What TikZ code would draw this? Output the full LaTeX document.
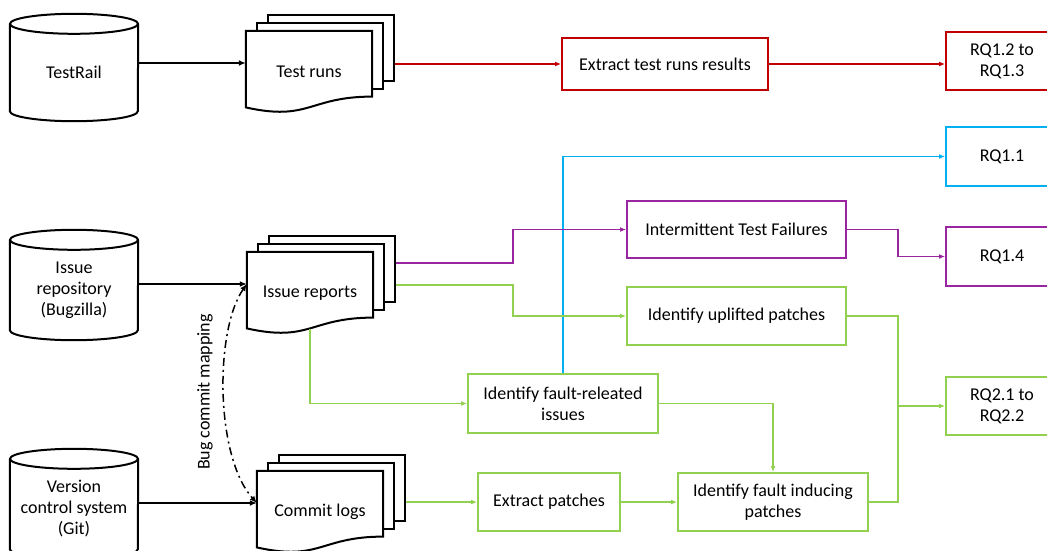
\documentclass[tikz,border=0pt]{standalone}
\usepackage{fontspec}
\setmainfont{Carlito}
\usetikzlibrary{calc,arrows.meta,backgrounds}

\definecolor{runred}{RGB}{192,0,0}
\definecolor{rqblue}{RGB}{0,176,240}
\definecolor{itfpurple}{RGB}{153,38,160}
\definecolor{patchgreen}{RGB}{146,208,80}

\begin{document}
\begin{tikzpicture}[x=1pt,y=-1pt,
	every node/.style={font=\fontsize{18}{21}\selectfont,align=center,inner sep=0pt},
	task/.style={draw=#1,line width=2pt,minimum height=58pt},
	rq/.style={task=#1,minimum width=112pt},
	sheet/.style={minimum width=126pt,minimum height=82pt},
	backsheet/.style={draw,line width=2pt,fill=white,minimum width=126pt,minimum height=66pt,anchor=north west},
	store/.style={minimum width=128pt},
	link/.style={line width=2pt,-{Latex[length=7pt,width=6pt]}},
	flow/.style={line width=1.6pt,-{Latex[length=6pt,width=5pt]}}]
\useasboundingbox (0,0) rectangle (1047,551);

% data sources
\node[store,minimum height=77pt] (testrail) at (74,72.5) {TestRail};
\node[store,minimum height=80pt] (issuerepo) at (74,290) {Issue\\repository\\(Bugzilla)};
\node[store,minimum height=80pt] (vcs) at (74,509) {Version\\control system\\(Git)};

% documents
\node[sheet] (runs) at (309,72) {Test runs};
\node[sheet] (issues) at (310,293) {Issue reports};
\node[sheet] (commits) at (320,512) {Commit logs};

\begin{scope}[on background layer]
\foreach \n in {testrail,issuerepo,vcs}{
	\draw[line width=2pt] ($(\n.north)+(0,-10)$) ellipse [x radius=64pt,y radius=10pt]
		($(\n.north west)+(0,-10)$) -- (\n.south west)
		arc [start angle=180,end angle=360,x radius=64pt,y radius=10pt]
		-- ($(\n.north east)+(0,-10)$);
}
\foreach \n in {runs,issues,commits}{
	\node[backsheet] (\n-c) at ($(\n.north west)+(21,-17)$) {};
	\node[backsheet] (\n-b) at ($(\n.north west)+(10.5,-8.5)$) {};
	\draw[line width=2pt,fill=white] (\n.north west) -- (\n.north east) -- ($(\n.north east)+(0,65.8)$)
		.. controls ($(\n.north east)+(-63,65.8)$) and ($(\n.north east)+(-63,90.8)$) .. ($(\n.north west)+(0,76.6)$) -- cycle;
	\coordinate (\n-in) at ([yshift=9pt]\n.west);
}
\end{scope}

% steps
\node[task=runred,minimum width=206pt,minimum height=52pt] (extractruns) at (665,64) {Extract test runs results};
\node[task=itfpurple,minimum width=219pt,minimum height=57pt] (itf) at (736.5,229.5) {Intermittent Test Failures};
\node[task=patchgreen,minimum width=219pt] (uplift) at (736.5,316) {Identify uplifted patches};
\node[task=patchgreen,minimum width=190pt,minimum height=59pt] (related) at (563,403.5) {Identify fault-releated\\issues};
\node[task=patchgreen,minimum width=142pt] (extract) at (549,502) {Extract patches};
\node[task=patchgreen,minimum width=190pt] (inducing) at (773,502) {Identify fault inducing\\patches};

% research questions
\node[rq=runred] (rq12) at (1002,61) {RQ1.2 to\\RQ1.3};
\node[rq=rqblue,minimum height=59pt] (rq11) at (1002,156.5) {RQ1.1};
\node[rq=itfpurple,minimum height=59pt] (rq14) at (1002,256.5) {RQ1.4};
\node[rq=patchgreen] (rq21) at (1002,406) {RQ2.1 to\\RQ2.2};

% inputs
\draw[link] (runs-in -| testrail.east) -- (runs-in);
\draw[link] (issues-in -| issuerepo.east) -- (issues-in);
\draw[link] (commits-in -| vcs.east) -- (commits-in);
\draw[line width=1.5pt,dash pattern=on 8pt off 4pt on 2pt off 4pt,
	{Latex[length=7pt,width=6pt]}-{Latex[length=7pt,width=6pt]}]
	(issues-in) .. controls +(-32,46) and +(-42,-47) .. (commits-in);
\node[rotate=90] (maplabel) at (205,392) {Bug commit mapping};

% flows
\draw[flow,runred] (runs-c.east |- extractruns.west) -- (extractruns.west);
\draw[flow,runred] (extractruns.east) -- (extractruns.east -| rq12.west);
\draw[flow,rqblue] (related.north) |- (rq11.west);
\draw[flow,itfpurple] ([yshift=6pt]issues-c.east) -- ++(117,0) |- (itf.west);
\draw[flow,itfpurple] (itf.east) -- ++(51,0) |- (rq14.west);
\draw[flow,patchgreen] ([yshift=-16pt]issues-c.east) -- ++(117,0) |- (uplift.west);
\draw[flow,patchgreen] ([yshift=5.5pt]issues.south) |- (related.west);
\draw[flow,patchgreen] (related.east) -| (inducing.north);
\draw[flow,patchgreen] (commits-c.east |- extract.west) -- (extract.west);
\draw[flow,patchgreen] (extract) -- (inducing);
\draw[line width=1.6pt,patchgreen] (uplift.east) -- ++(51,0) coordinate (join) |- (inducing.east);
\draw[flow,patchgreen] (join |- rq21.west) -- (rq21.west);
\end{tikzpicture}
\end{document}
